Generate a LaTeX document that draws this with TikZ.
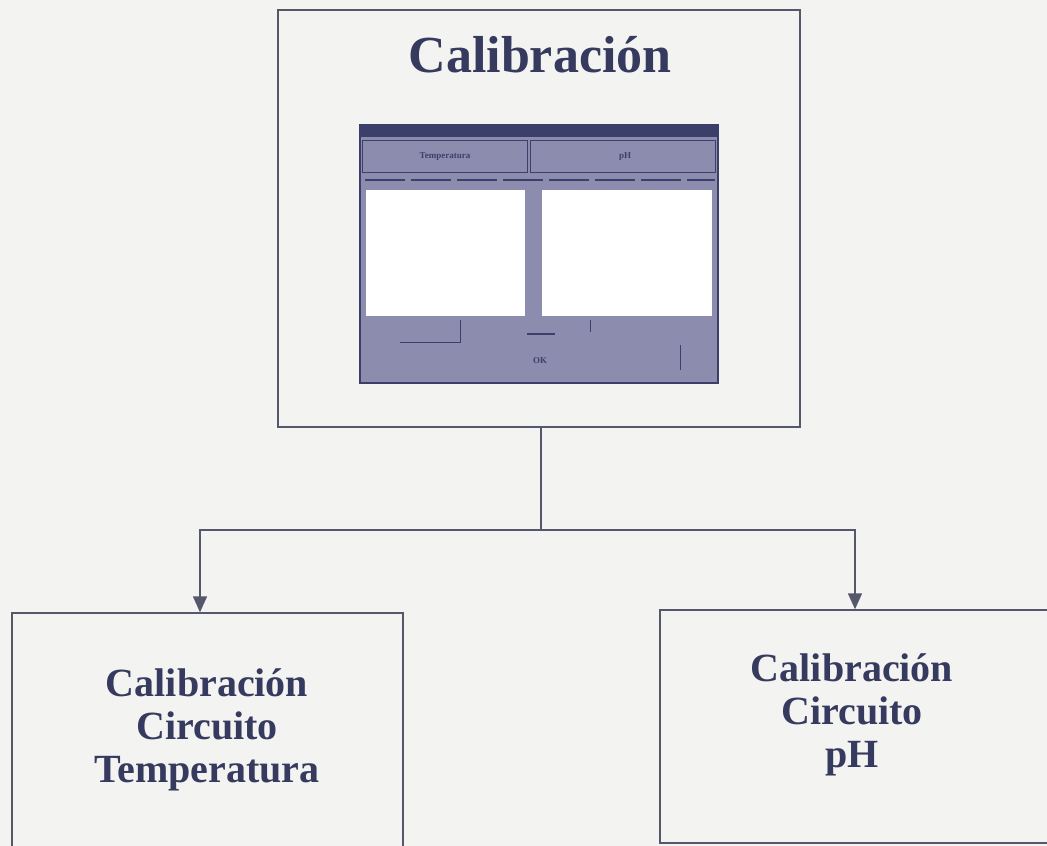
\documentclass[tikz,border=0pt]{standalone}
\usepackage{fontspec}
\setmainfont{Liberation Serif}
\usetikzlibrary{arrows.meta}
\definecolor{ink}{HTML}{363A5E}
\definecolor{linec}{HTML}{55576A}
\definecolor{paper}{HTML}{F3F3F1}
\definecolor{scrgray}{HTML}{8C8DAE}
\definecolor{scrdark}{HTML}{3C3F6A}
\tikzset{
  box/.style={draw=linec, line width=1.4pt, fill=paper, inner sep=0pt},
  arr/.style={draw=linec, line width=1.4pt, -{Triangle[width=14pt,length=16pt]}},
  lbl/.style={text=ink, font=\bfseries\fontsize{40}{43}\selectfont, align=center},
  ttl/.style={text=ink, font=\bfseries\fontsize{52}{56}\selectfont},
  tiny/.style={text=scrdark, font=\bfseries\fontsize{9}{10}\selectfont}
}
\begin{document}
\begin{tikzpicture}[x=1pt,y=-1pt]
\useasboundingbox (0,0) rectangle (1047,846);
\fill[paper] (0,0) rectangle (1047,846);
% boxes
\node[box, minimum width=522pt, minimum height=417pt] (top) at (539,218.5) {};
\node[box, minimum width=391pt, minimum height=250pt] (left) at (207.5,738) {};
\node[box, minimum width=400pt, minimum height=233pt] (right) at (860,726.5) {};
% title
\node[ttl] (title) at (540,55) {Calibración};
% screenshot
\fill[scrgray] (360,125) rectangle (718,383);
\fill[scrdark] (360,125) rectangle (718,137);
\draw[scrdark, line width=1pt] (362,140) rectangle (527,172);
\draw[scrdark, line width=1pt] (530,140) rectangle (715,172);
\node[tiny] (tab1) at (445,157) {Temperatura};
\node[tiny] (tab2) at (625,157) {pH};
\draw[scrdark, line width=2pt, dash pattern=on 40pt off 6pt] (365,180) -- (715,180);
\fill[white] (366,190) rectangle (525,316);
\fill[white] (542,190) rectangle (712,316);
\draw[scrdark, line width=1pt] (400,342) -- (460,342) -- (460,320);
\draw[scrdark, line width=1.5pt] (527,334) -- (555,334);
\draw[scrdark, line width=1pt] (590,332) -- (590,320);
\draw[scrdark, line width=1pt] (680,370) -- (680,345);
\node[tiny] (ok) at (540,361) {OK};
\draw[scrdark, line width=1.2pt] (360,125) rectangle (718,383);
% labels
\node[lbl] (ltxt) at (207,730) {Calibración\\Circuito\\Temperatura};
\node[lbl] (rtxt) at (852,715) {Calibración\\Circuito\\pH};
% connectors
\coordinate (j) at (541,530);
\draw[draw=linec, line width=1.4pt] (top.south -| j) -- (j);
\draw[arr] (j) -| ([xshift=-7.5pt]left.north);
\draw[arr] (j) -| ([xshift=-5pt]right.north);
\end{tikzpicture}
\end{document}
